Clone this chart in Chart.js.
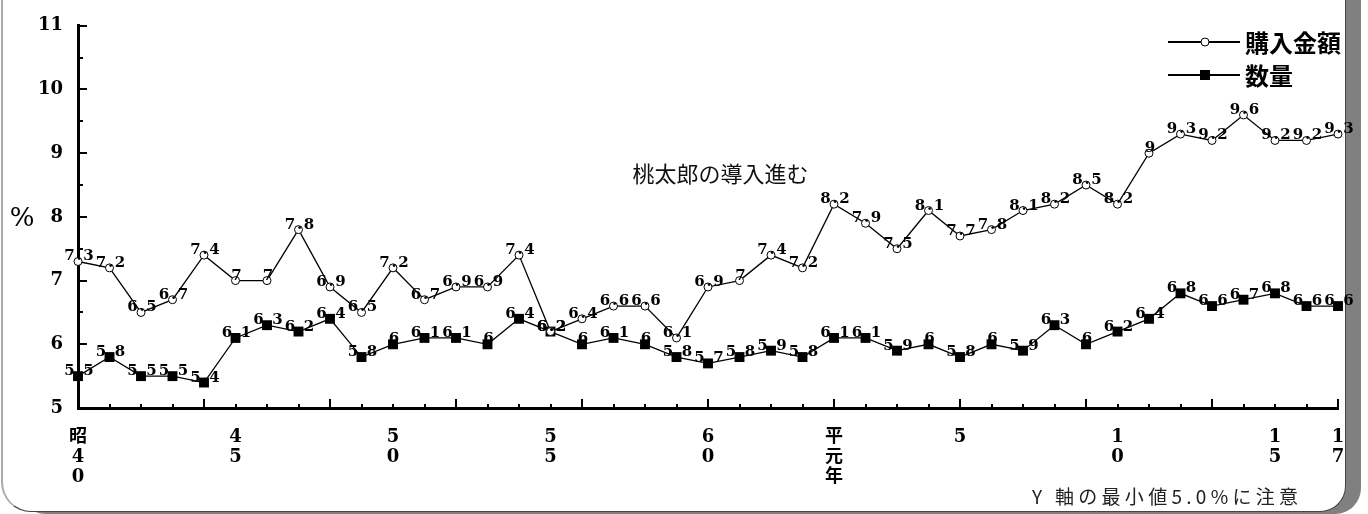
<!DOCTYPE html>
<html>
<head>
<meta charset="utf-8">
<script src="https://cdn.jsdelivr.net/npm/chart.js@4/dist/chart.umd.min.js"></script>
<style>
  html, body { margin: 0; padding: 0; background: #fff; }
  body { width: 1368px; height: 514px; position: relative; overflow: hidden; }
  #frame {
    position: absolute; left: 1px; top: -60px; width: 1345px; height: 572px; box-sizing: border-box;
    border-left: 2px solid #aaa; border-right: 1px solid #444; border-bottom: 1px solid #444;
    border-radius: 0 0 26px 30px; box-shadow: 15px 2px 0 #808080; background: #fff;
  }
  #chart { position: absolute; left: 0; top: 0; }
</style>
</head>
<body>
<div id="frame"></div>
<canvas id="chart" width="1368" height="514"></canvas>
<script>
// Data (昭和40年 〜 平成17年)
const years = [
  '昭和40', '昭和41', '昭和42', '昭和43', '昭和44', '昭和45', '昭和46', '昭和47', '昭和48', '昭和49',
  '昭和50', '昭和51', '昭和52', '昭和53', '昭和54', '昭和55', '昭和56', '昭和57', '昭和58', '昭和59',
  '昭和60', '昭和61', '昭和62', '昭和63', '平成元', '平成2', '平成3', '平成4', '平成5', '平成6',
  '平成7', '平成8', '平成9', '平成10', '平成11', '平成12', '平成13', '平成14', '平成15', '平成16', '平成17'
]
const tickText = [
  '昭40', '', '', '', '', '45', '', '', '', '',
  '50', '', '', '', '', '55', '', '', '', '',
  '60', '', '', '', '平元年', '', '', '', '5', '',
  '', '', '', '10', '', '', '', '', '15', '', '17'
]
const amount = [
  7.3, 7.2, 6.5, 6.7, 7.4, 7, 7, 7.8, 6.9, 6.5,
  7.2, 6.7, 6.9, 6.9, 7.4, 6.2, 6.4, 6.6, 6.6, 6.1,
  6.9, 7, 7.4, 7.2, 8.2, 7.9, 7.5, 8.1, 7.7, 7.8,
  8.1, 8.2, 8.5, 8.2, 9, 9.3, 9.2, 9.6, 9.2, 9.2, 9.3
]
const quantity = [
  5.5, 5.8, 5.5, 5.5, 5.4, 6.1, 6.3, 6.2, 6.4, 5.8,
  6, 6.1, 6.1, 6, 6.4, 6.2, 6, 6.1, 6, 5.8,
  5.7, 5.8, 5.9, 5.8, 6.1, 6.1, 5.9, 6, 5.8, 6,
  5.9, 6.3, 6, 6.2, 6.4, 6.8, 6.6, 6.7, 6.8, 6.6, 6.6
]
const seriesNames = ['購入金額', '数量']
const yTicks = [5, 6, 7, 8, 9, 10, 11]
const annotation = { text: '桃太郎の導入進む', index: 20.4, value: 8.68 }
const note = 'Y 軸の最小値5.0%に注意'

const SERIF = "'DejaVu Serif', 'Liberation Serif', 'Noto Sans CJK JP', serif"
const GOTHIC = "'Noto Sans CJK JP', 'Noto Sans', sans-serif"

// draw text with fixed character cells (mincho-like half width digits)
function drawCells(ctx, text, cx, y, cell) {
  const chars = text.split('')
  let x = cx - chars.length * cell / 2 + cell / 2
  chars.forEach(ch => {
    ctx.fillText(ch, x, y)
    x += cell
  })
}

const decor = {
  id: 'decor',
  afterDatasetsDraw(chart) {
    const ctx = chart.ctx
    ctx.save()
    ctx.fillStyle = '#000'
    ctx.font = 'bold 15px ' + SERIF
    ctx.textAlign = 'center'
    ctx.textBaseline = 'alphabetic'
    chart.data.datasets.forEach((ds, di) => {
      const meta = chart.getDatasetMeta(di)
      meta.data.forEach((pt, i) => {
        drawCells(ctx, String(ds.data[i]), pt.x + 1, pt.y - 1, 9.5)
      })
    })
    ctx.restore()
  },
  afterDraw(chart) {
    const ctx = chart.ctx
    const xs = chart.scales.x
    const ys = chart.scales.y
    const area = chart.chartArea
    ctx.save()

    // inward ticks
    ctx.strokeStyle = '#000'
    ctx.lineWidth = 2
    ctx.beginPath()
    for (let i = 0; i < years.length; i++) {
      const x = Math.round(xs.getPixelForValue(i))
      const len = i % 4 === 0 ? 9 : 4
      ctx.moveTo(x, area.bottom)
      ctx.lineTo(x, area.bottom - len)
    }
    for (let v = 5; v <= 11; v += 0.5) {
      const y = Math.round(ys.getPixelForValue(v))
      const len = Number.isInteger(v) ? 9 : 5
      ctx.moveTo(area.left, y)
      ctx.lineTo(area.left + len, y)
    }
    ctx.stroke()

    // % label
    ctx.fillStyle = '#000'
    ctx.font = '26px ' + SERIF
    ctx.textAlign = 'center'
    ctx.textBaseline = 'middle'
    ctx.fillText('%', 22, ys.getPixelForValue(8) + 2)

    // legend
    const lx = area.right - 170
    const rows = [42, 75]
    ctx.lineWidth = 2
    rows.forEach((ry, k) => {
      ctx.beginPath()
      ctx.moveTo(lx, ry)
      ctx.lineTo(lx + 72, ry)
      ctx.stroke()
      if (k === 0) {
        ctx.beginPath()
        ctx.arc(lx + 37, ry, 4, 0, Math.PI * 2)
        ctx.fillStyle = '#fff'
        ctx.fill()
        ctx.lineWidth = 1
        ctx.stroke()
        ctx.lineWidth = 2
      } else {
        ctx.fillStyle = '#000'
        ctx.fillRect(lx + 32, ry - 5, 10, 10)
      }
      ctx.fillStyle = '#000'
      ctx.font = 'bold 24px ' + GOTHIC
      ctx.textAlign = 'left'
      ctx.textBaseline = 'middle'
      ctx.fillText(seriesNames[k], lx + 77, ry + 1)
    })

    // annotation
    ctx.font = '22px ' + GOTHIC
    ctx.textAlign = 'center'
    ctx.fillStyle = '#111'
    ctx.fillText(annotation.text, xs.getPixelForValue(annotation.index), ys.getPixelForValue(annotation.value))

    // note
    ctx.font = '19px ' + GOTHIC
    ctx.textAlign = 'left'
    ctx.fillStyle = '#222'
    ctx.letterSpacing = '4.3px'
    ctx.fillText(note, 1032, 497)
    ctx.restore()
  }
}

const ctx = document.getElementById('chart').getContext('2d')
const chart = new Chart(ctx, {
  type: 'line',
  data: {
    labels: years,
    datasets: [{
      label: seriesNames[0],
      data: amount,
      borderColor: '#000',
      borderWidth: 1.3,
      pointStyle: 'circle',
      pointRadius: 4,
      pointBackgroundColor: '#fff',
      pointBorderColor: '#000',
      pointBorderWidth: 1,
      tension: 0,
      clip: false
    }, {
      label: seriesNames[1],
      data: quantity,
      borderColor: '#000',
      borderWidth: 1.3,
      pointStyle: 'rect',
      pointRadius: 7,
      pointBackgroundColor: '#000',
      pointBorderColor: '#000',
      pointBorderWidth: 0,
      tension: 0,
      clip: false
    }]
  },
  options: {
    responsive: false,
    animation: false,
    layout: { padding: { left: 0, right: 30, top: 22, bottom: 0 } },
    plugins: {
      legend: { display: false },
      tooltip: { enabled: false }
    },
    scales: {
      x: {
        type: 'category',
        offset: false,
        grid: { drawOnChartArea: false, drawTicks: false },
        border: { color: '#000', width: 3 },
        ticks: {
          autoSkip: false,
          maxRotation: 0,
          minRotation: 0,
          padding: 19,
          color: '#000',
          font: { family: SERIF, size: 18, weight: 'bold', lineHeight: 1.12 },
          callback: (v, i) => tickText[i] ? tickText[i].split('') : ''
        },
        afterFit: s => { s.height = 106 }
      },
      y: {
        min: 5,
        max: 11,
        afterBuildTicks: s => { s.ticks = yTicks.map(v => ({ value: v })) },
        grid: { drawOnChartArea: false, drawTicks: false },
        border: { color: '#000', width: 3 },
        ticks: {
          padding: 15,
          color: '#000',
          font: { family: SERIF, size: 18, weight: 'bold' }
        },
        afterFit: s => { s.width = 78 }
      }
    }
  },
  plugins: [decor]
})
</script>
</body>
</html>
